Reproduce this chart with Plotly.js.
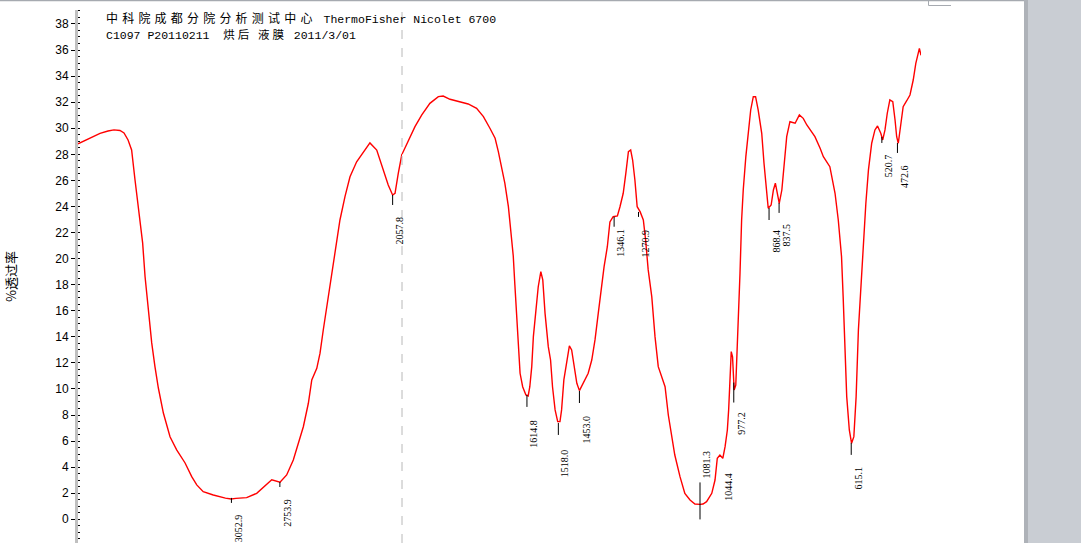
<!DOCTYPE html>
<html>
<head>
<meta charset="utf-8">
<script src="https://cdn.plot.ly/plotly-3.0.1.min.js"></script>
<style>html,body{margin:0;padding:0;background:#fff;overflow:hidden}</style>
</head>
<body>
<div id="chart" style="width:1081px;height:543px"></div>
<script>
// ---- data: wavenumber (cm-1) and % transmittance ----
const wnHigh = [4000,3926,3864,3815,3778,3741,3716,3691,3669,3648,3622,3601,3586,3566,3545,3525,3504,3473,3432,3391,3339,3298,3267,3227,3165,3090,3055,3025,2959,2897,2835,2804,2753,2712,2671,2640,2609,2578,2557,2526,2506,2486,2465,2444,2424,2403,2383,2352,2321,2280,2239,2198,2156,2115,2085,2058,2043,2023,2002,2000];
const tHigh = [28.80,29.25,29.60,29.79,29.87,29.83,29.64,29.10,28.33,26.03,23.21,21.20,18.61,16.06,13.53,11.71,10.07,8.15,6.33,5.32,4.32,3.27,2.64,2.12,1.86,1.62,1.56,1.60,1.66,1.99,2.64,3.03,2.84,3.40,4.55,5.83,7.10,8.90,10.69,11.58,12.74,14.52,16.31,17.84,19.64,21.43,22.96,24.75,26.28,27.43,28.20,28.87,28.33,26.80,25.65,24.88,25.01,26.54,27.95,28.05];

const wnLow = [2000,1991,1975,1960,1939,1914,1888,1873,1852,1821,1796,1770,1749,1729,1713,1703,1693,1683,1672,1662,1657,1652,1646,1642,1636,1628,1618,1611,1606,1600,1595,1588,1580,1572,1566,1559,1549,1542,1536,1528,1520,1513,1508,1501,1492,1484,1477,1470,1461,1453,1441,1426,1415,1405,1395,1388,1377,1367,1359,1349,1336,1328,1318,1310,1302,1295,1289,1282,1275,1266,1256,1249,1241,1230,1220,1210,1200,1189,1179,1169,1159,1143,1128,1112,1097,1081,1072,1061,1045,1035,1028,1020,1011,1004,997,993,989,985,981,976,971,966,962,958,953,948,940,932,925,917,910,902,891,884,878,871,862,855,849,843,837,829,822,814,804,788,775,763,752,742,727,711,701,681,665,655,645,640,634,629,621,614,607,600,593,586,578,570,562,552,542,534,524,518,511,504,496,487,480,475,470,463,455,444,434,424,416,405,400];
const tLow = [28.0,28.46,29.23,30.12,31.02,31.91,32.42,32.47,32.22,31.99,31.86,31.53,30.89,30.00,29.23,28.20,27.05,25.78,23.98,21.73,20.20,17.97,15.04,12.99,11.20,10.17,9.54,9.46,10.17,11.71,14.01,15.80,17.84,18.99,18.36,15.80,13.24,12.22,10.17,8.39,7.49,7.49,8.39,10.69,12.22,13.30,12.99,11.71,10.43,9.87,10.43,11.20,12.22,13.76,15.80,17.34,19.38,20.91,22.81,23.21,23.27,23.98,25.01,26.54,28.20,28.33,27.56,26.03,23.98,23.60,22.96,21.43,19.13,17.08,14.01,11.71,10.94,10.17,8.00,6.60,4.93,3.27,1.99,1.48,1.17,1.14,1.17,1.35,1.99,3.01,4.68,4.93,4.68,5.57,6.85,8.39,11.20,12.86,12.47,9.92,10.30,13.24,15.80,18.87,22.96,25.26,27.82,29.61,31.40,32.42,32.42,31.40,29.61,27.31,25.52,23.86,24.11,25.26,25.78,25.13,24.24,25.26,27.31,29.35,30.50,30.38,31.02,30.76,30.25,29.87,29.35,28.46,27.82,27.05,25.01,22.96,20.15,17.08,13.24,9.41,6.85,5.83,6.34,9.41,14.52,17.59,20.91,24.24,26.80,28.85,29.87,30.17,29.61,29.10,29.87,31.15,32.17,32.04,30.63,29.35,28.85,30.12,31.65,32.11,32.55,33.70,34.98,36.13,35.6];

// peak picks
const peakWn = [3052.9,2753.9,2057.8,1614.8,1518.0,1453.0,1346.1,1270.9,1081.3,1044.4,977.2,868.4,837.5,615.1,520.7,472.6];
const peakT  = [1.64,2.86,24.88,9.54,7.39,9.84,23.21,23.58,1.14,1.99,10.49,23.88,24.27,5.86,29.33,28.87];
const peakLabels = peakWn.map(v => v.toFixed(1));

const yTickVals = [0,2,4,6,8,10,12,14,16,18,20,22,24,26,28,30,32,34,36,38];
const titleLine1CJK = '中科院成都分院分析测试中心';
const titleLine1Lat = ' ThermoFisher Nicolet 6700';
const titleLine2a = 'C1097 P20110211  ';
const titleLine2CJK = '烘后 液膜';
const titleLine2b = ' 2011/3/01';
const yTitle = '%透过率';

// ---- style (pixels) ----
const tickLen  = [5,5,10,12,12,12,10,5,0,0,20,12,10,12,6,10];
const labelGap = [14,15,20,23,24,22,10,16,0,0,27,20,19,22,15,20];
const L = 78, PW = 843, TOP = 10, PH = 533;
const px = x => (x - L) / PW;
const py = y => (TOP + PH - y) / PH;
const BREAK = 2000;

const traces = [
  {x: wnHigh, y: tHigh, xaxis: 'x', yaxis: 'y', type: 'scatter', mode: 'lines',
   line: {color: '#ff0000', width: 1.4}, hoverinfo: 'skip'},
  {x: wnLow, y: tLow, xaxis: 'x2', yaxis: 'y', type: 'scatter', mode: 'lines',
   line: {color: '#ff0000', width: 1.4}, hoverinfo: 'skip'}
];

const labelFont = {family: 'Liberation Serif, serif', size: 10, color: '#000'};
const shapes = [];
const annotations = [];
peakWn.forEach((wn, i) => {
  const xr = wn >= BREAK ? 'x' : 'x2';
  const lbl = peakLabels[i];
  if (lbl === '1081.3') {
    shapes.push({type: 'line', xref: xr, yref: 'y', ysizemode: 'pixel', yanchor: peakT[i],
      x0: wn, x1: wn, y0: 22, y1: -15, line: {color: '#000', width: 1}});
    annotations.push({x: wn, y: peakT[i], xref: xr, yref: 'y', text: lbl, showarrow: false,
      textangle: -90, xanchor: 'center', yanchor: 'bottom', xshift: 6, yshift: 24, font: labelFont});
    return;
  }
  if (lbl === '1044.4') {
    annotations.push({x: wn, y: peakT[i], xref: xr, yref: 'y', text: lbl, showarrow: false,
      textangle: -90, xanchor: 'center', yanchor: 'top', xshift: 16.5, yshift: 23, font: labelFont});
    return;
  }
  shapes.push({type: 'line', xref: xr, yref: 'y', ysizemode: 'pixel', yanchor: peakT[i],
    x0: wn, x1: wn, y0: 0, y1: -tickLen[i], line: {color: '#000', width: 1}});
  annotations.push({x: wn, y: peakT[i], xref: xr, yref: 'y', text: lbl, showarrow: false,
    textangle: -90, xanchor: 'center', yanchor: 'top', xshift: 7, yshift: -labelGap[i], font: labelFont});
});

// scale-break dashed line
shapes.push({type: 'line', xref: 'paper', yref: 'paper', x0: px(402), x1: px(402), y0: 0, y1: 1.0,
  line: {color: '#b8b8b8', width: 1, dash: 'dash'}});
// window / page decorations
shapes.push({type: 'rect', xref: 'paper', yref: 'paper', x0: px(1024), x1: px(1100), y0: -0.05, y1: 1.05,
  fillcolor: '#c9cdd3', line: {width: 0}, layer: 'above'});
shapes.push({type: 'rect', xref: 'paper', yref: 'paper', x0: px(1024), x1: px(1028), y0: -0.05, y1: 1.05,
  fillcolor: '#aeb2b8', line: {width: 0}, layer: 'above'});
shapes.push({type: 'line', xref: 'paper', yref: 'paper', x0: px(-5), x1: px(1024), y0: py(0.5), y1: py(0.5),
  line: {color: '#a6aab0', width: 1.5}});
shapes.push({type: 'line', xref: 'paper', yref: 'paper', x0: px(928.5), x1: px(928.5), y0: py(0), y1: py(5.5),
  line: {color: '#a6aab0', width: 1}});
shapes.push({type: 'line', xref: 'paper', yref: 'paper', x0: px(928.5), x1: px(951), y0: py(5.5), y1: py(5.5),
  line: {color: '#a6aab0', width: 1}});

// two-line header
const cjk = (s, size, sp) => '<span style="font-family:\'Noto Sans CJK SC\';font-size:' + size + 'px;letter-spacing:' + sp + 'px">' + s + '</span>';
const headFont = {family: 'Liberation Mono, monospace', size: 11.5, color: '#000'};
annotations.push({xref: 'paper', yref: 'paper', x: px(105), y: py(17), xanchor: 'left', yanchor: 'middle',
  showarrow: false, align: 'left', borderpad: 0,
  text: cjk(titleLine1CJK, 12, 4.2) + titleLine1Lat, font: headFont});
annotations.push({xref: 'paper', yref: 'paper', x: px(105), y: py(34), xanchor: 'left', yanchor: 'middle',
  showarrow: false, align: 'left', borderpad: 0,
  text: titleLine2a + cjk(titleLine2CJK, 11.5, 3) + titleLine2b, font: headFont});

const layout = {
  width: 1081, height: 543,
  margin: {l: L, r: 1081 - L - PW, t: TOP, b: 0, pad: 0},
  paper_bgcolor: '#ffffff', plot_bgcolor: '#ffffff',
  showlegend: false,
  xaxis: {domain: [0, px(402)], range: [4000, BREAK], visible: false, fixedrange: true},
  xaxis2: {domain: [px(402), 1], range: [BREAK, 400], visible: false, anchor: 'y', fixedrange: true},
  yaxis: {range: [-1.82, 39.07], tickmode: 'array', tickvals: yTickVals, ticktext: yTickVals.map(String),
    ticks: 'outside', ticklen: 4, tickwidth: 1, tickcolor: '#000',
    showline: true, linecolor: '#c0c0c0', linewidth: 3, showgrid: false, zeroline: false,
    tickfont: {family: 'Liberation Sans, Arial, sans-serif', size: 12, color: '#000'},
    minor: {dtick: 0.5, tick0: 0, ticks: 'inside', ticklen: 1.5, tickwidth: 1, tickcolor: '#000', showgrid: false},
    title: {text: yTitle, standoff: 36, font: {family: 'Noto Sans CJK SC', size: 13, color: '#000'}},
    fixedrange: true},
  shapes: shapes,
  annotations: annotations
};

Plotly.newPlot('chart', traces, layout, {displayModeBar: false, staticPlot: true});
</script>
</body>
</html>
